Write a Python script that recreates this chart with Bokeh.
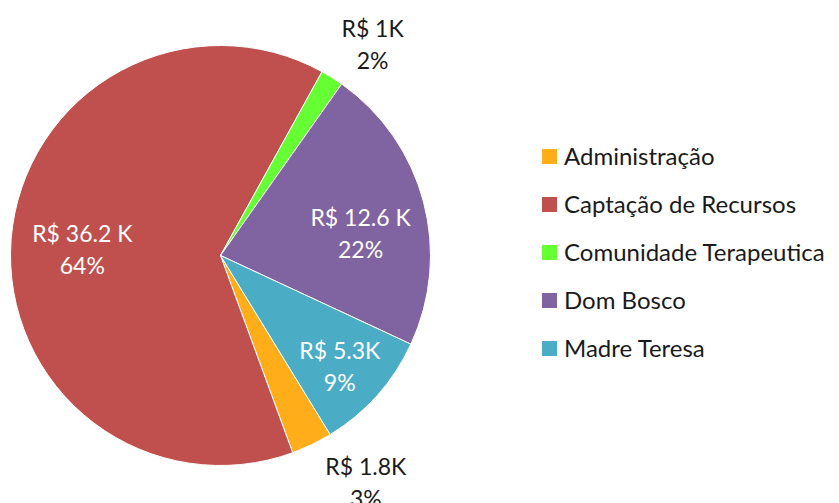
import math
from bokeh.plotting import figure
from bokeh.models import ColumnDataSource, Range1d, Legend, LegendItem
from bokeh.core.properties import value
from bokeh.embed import file_html
from bokeh.resources import INLINE

# ---- data ----
categories = ["Administração", "Captação de Recursos", "Comunidade Terapeutica", "Dom Bosco", "Madre Teresa"]
values_k = [1.8, 36.2, 1.0, 12.6, 5.3]
value_labels = ["R$ 1.8K", "R$ 36.2 K", "R$ 1K", "R$ 12.6 K", "R$ 5.3K"]
colors = ["#FFAE1A", "#C0504D", "#66FF33", "#8064A2", "#4BACC6"]

# ---- style / layout ----
FONT = "Lato"
W, H = 839, 503
CX, CY, R = 220, 503 - 255, 210          # page px, y measured upward
START_DEG = -58.5                          # first slice starts here, drawn clockwise
label_r = [1.25, 0.66, 1.22, 0.69, 0.78]
label_dx = [31, 0, 16, 0, -3]
label_dy = [10, -4, -6, -15, -1]
label_colors = ["#1a1a1a", "white", "#1a1a1a", "white", "white"]

total = sum(values_k)
pcts = [f"{round(v / total * 100)}%" for v in values_k]
starts, ends, mids = [], [], []
a = math.radians(START_DEG)
for v in values_k:
    sweep = v / total * 2 * math.pi
    starts.append(a)
    ends.append(a - sweep)
    mids.append(a - sweep / 2)
    a -= sweep

lx = [CX + R * f * math.cos(m) + dx for f, m, dx in zip(label_r, mids, label_dx)]
ly = [CY + R * f * math.sin(m) + dy for f, m, dy in zip(label_r, mids, label_dy)]

src = ColumnDataSource(dict(cat=categories, start=starts, end=ends, color=colors,
                            x=[CX] * 5, y=[CY] * 5))
lsrc = ColumnDataSource(dict(x=lx, y1=[y + 16 for y in ly], y2=[y - 16 for y in ly],
                             t1=value_labels, t2=pcts, c=label_colors))

p = figure(width=W, height=H, output_backend="svg", toolbar_location=None,
           x_range=Range1d(0, W), y_range=Range1d(0, H),
           min_border=0, outline_line_color=None)
p.axis.visible = False
p.grid.visible = False

wr = p.wedge(x="x", y="y", radius=R, radius_units="screen", start_angle="start", end_angle="end",
             direction="clock", fill_color="color", line_color="white", line_width=1, source=src)

p.text(x="x", y="y1", text="t1", text_color="c", text_font=value(FONT), text_font_size="23px",
       text_align="center", text_baseline="middle", source=lsrc)
p.text(x="x", y="y2", text="t2", text_color="c", text_font=value(FONT), text_font_size="23px",
       text_align="center", text_baseline="middle", source=lsrc)

items = [LegendItem(label=c, renderers=[wr], index=i) for i, c in enumerate(categories)]
legend = Legend(items=items, location=(539, 141), orientation="vertical",
                glyph_width=20, glyph_height=20, label_standoff=5, label_height=24,
                spacing=19, padding=0, margin=0, border_line_color=None,
                background_fill_alpha=0, label_text_font=FONT, label_text_font_size="24px",
                label_text_color="#1a1a1a")
p.add_layout(legend, "center")

open("out.html", "w").write(file_html(p, INLINE))
